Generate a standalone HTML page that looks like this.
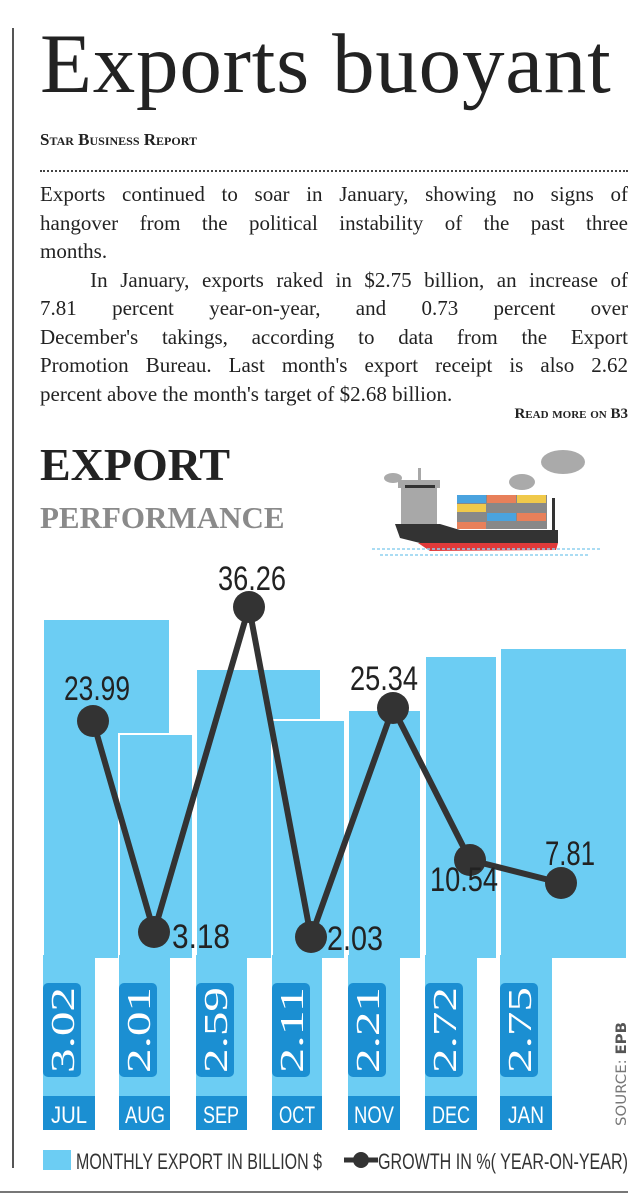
<!DOCTYPE html>
<html><head><meta charset="utf-8">
<style>
html,body{margin:0;padding:0;background:#fff;}
body{width:643px;height:1198px;position:relative;overflow:hidden;font-family:"Liberation Serif",serif;color:#222;}
.vl{position:absolute;left:12px;top:28px;width:1.5px;height:1140px;background:#555;}
h1{position:absolute;left:40px;top:14px;margin:0;font-weight:normal;font-size:85px;letter-spacing:0.8px;color:#222;line-height:100px;}
.by{position:absolute;left:40px;top:130px;font-size:17px;font-weight:bold;font-variant:small-caps;}
.dot{position:absolute;left:40px;top:170px;width:588px;border-top:2px dotted #444;}
.p{position:absolute;left:40px;top:180px;width:588px;font-size:21px;line-height:28.5px;color:#222;}
.p div{text-align:justify;text-align-last:justify;white-space:nowrap;}
.p div.l{text-align-last:left;}
.rm{position:absolute;right:15px;top:406px;font-size:15px;font-weight:bold;font-variant:small-caps;}
.ex{position:absolute;left:40px;top:438px;font-size:46px;font-weight:bold;line-height:54px;color:#222;}
.pf{position:absolute;left:40px;top:498px;font-size:31px;font-weight:bold;color:#8a8a8a;line-height:40px;}
svg{position:absolute;left:0;top:0;}
</style></head><body>
<div class="vl"></div>
<h1>Exports buoyant</h1>
<div class="by">Star Business Report</div>
<div class="dot"></div>
<div class="p">
<div>Exports continued to soar in January, showing no signs of</div>
<div>hangover from the political instability of the past three</div>
<div class="l">months.</div>
<div>&nbsp;&nbsp;&nbsp;&nbsp;In January, exports raked in $2.75 billion, an increase of</div>
<div>7.81 percent year-on-year, and 0.73 percent over</div>
<div>December's takings, according to data from the Export</div>
<div>Promotion Bureau. Last month's export receipt is also 2.62</div>
<div class="l">percent above the month's target of $2.68 billion.</div>
</div>
<div class="rm">Read more on B3</div>
<div class="ex">EXPORT</div>
<div class="pf">PERFORMANCE</div>
<svg width="643" height="1198" viewBox="0 0 643 1198">
<g>
<ellipse cx="393" cy="478" rx="9" ry="5" fill="#aaa"/>
<ellipse cx="522" cy="482" rx="13" ry="8" fill="#aaa"/>
<ellipse cx="563" cy="462" rx="22" ry="12" fill="#aaa"/>
<rect x="401" y="482" width="36" height="42" fill="#a8a8a8"/>
<rect x="398" y="480" width="42" height="8" fill="#a8a8a8"/>
<rect x="418" y="468" width="3" height="14" fill="#a8a8a8"/>
<rect x="405" y="485" width="30" height="3" fill="#333"/>
<rect x="457" y="495" width="90" height="34" fill="#888"/>
<rect x="457" y="495" width="29" height="8" fill="#4aa3df"/><rect x="487" y="495" width="29" height="8" fill="#e8805a"/><rect x="517" y="495" width="29" height="8" fill="#f0c94a"/>
<rect x="457" y="504" width="29" height="8" fill="#f0c94a"/><rect x="517" y="504" width="29" height="8" fill="#888"/>
<rect x="487" y="513" width="29" height="8" fill="#4aa3df"/><rect x="517" y="513" width="29" height="8" fill="#e8805a"/>
<rect x="457" y="522" width="29" height="7" fill="#e8805a"/>
<rect x="552" y="498" width="3" height="32" fill="#333"/>
<polygon points="395,524 440,524 460,530 558,530 558,543 420,543 400,538" fill="#333"/>
<polygon points="418,543 558,543 556,550 430,551" fill="#e03a3a"/>
<line x1="372" y1="549" x2="600" y2="549" stroke="#8ed0ef" stroke-width="1.5" stroke-dasharray="3 2"/>
<line x1="380" y1="555" x2="590" y2="555" stroke="#8ed0ef" stroke-width="1.5" stroke-dasharray="3 2"/>
</g>
<g fill="#6ccdf3" stroke="#fff" stroke-width="2">
<rect x="43" y="619" width="127" height="340"/>
<rect x="119" y="734" width="74" height="225"/>
<rect x="196" y="669" width="125" height="290"/>
<rect x="272" y="720" width="73" height="239"/>
<rect x="348" y="710" width="73" height="249"/>
<rect x="425" y="656" width="72" height="303"/>
<rect x="500" y="648" width="127" height="311"/>
</g>
<g fill="#6ccdf3">
<rect x="43" y="955" width="52" height="141"/>
<rect x="119" y="955" width="51" height="141"/>
<rect x="196" y="955" width="51" height="141"/>
<rect x="272" y="955" width="50" height="141"/>
<rect x="348" y="955" width="52" height="141"/>
<rect x="425" y="955" width="52" height="141"/>
<rect x="500" y="955" width="52" height="141"/>
</g>
<g fill="#1b8fd2">
<rect x="43" y="983" width="38" height="94" rx="5"/>
<rect x="119" y="983" width="38" height="94" rx="5"/>
<rect x="196" y="983" width="38" height="94" rx="5"/>
<rect x="272" y="983" width="38" height="94" rx="5"/>
<rect x="348" y="983" width="38" height="94" rx="5"/>
<rect x="425" y="983" width="38" height="94" rx="5"/>
<rect x="500" y="983" width="38" height="94" rx="5"/>
<rect x="43" y="1096" width="52" height="34"/>
<rect x="119" y="1096" width="51" height="34"/>
<rect x="196" y="1096" width="51" height="34"/>
<rect x="272" y="1096" width="50" height="34"/>
<rect x="348" y="1096" width="52" height="34"/>
<rect x="425" y="1096" width="52" height="34"/>
<rect x="500" y="1096" width="52" height="34"/>
</g>
<g fill="#fff" font-family="Liberation Serif,serif" font-size="34">
<text transform="translate(74,1073) rotate(-90)" textLength="86" lengthAdjust="spacingAndGlyphs">3.02</text>
<text transform="translate(150,1073) rotate(-90)" textLength="86" lengthAdjust="spacingAndGlyphs">2.01</text>
<text transform="translate(227,1073) rotate(-90)" textLength="86" lengthAdjust="spacingAndGlyphs">2.59</text>
<text transform="translate(303,1073) rotate(-90)" textLength="86" lengthAdjust="spacingAndGlyphs">2.11</text>
<text transform="translate(379,1073) rotate(-90)" textLength="86" lengthAdjust="spacingAndGlyphs">2.21</text>
<text transform="translate(456,1073) rotate(-90)" textLength="86" lengthAdjust="spacingAndGlyphs">2.72</text>
<text transform="translate(531,1073) rotate(-90)" textLength="86" lengthAdjust="spacingAndGlyphs">2.75</text>
</g>
<g fill="#fff" font-family="Liberation Sans,sans-serif" font-size="24" text-anchor="middle">
<text x="69" y="1123" textLength="36" lengthAdjust="spacingAndGlyphs">JUL</text>
<text x="145" y="1123" textLength="40" lengthAdjust="spacingAndGlyphs">AUG</text>
<text x="221" y="1123" textLength="36" lengthAdjust="spacingAndGlyphs">SEP</text>
<text x="297" y="1123" textLength="36" lengthAdjust="spacingAndGlyphs">OCT</text>
<text x="374" y="1123" textLength="40" lengthAdjust="spacingAndGlyphs">NOV</text>
<text x="451" y="1123" textLength="38" lengthAdjust="spacingAndGlyphs">DEC</text>
<text x="526" y="1123" textLength="36" lengthAdjust="spacingAndGlyphs">JAN</text>
</g>
<polyline points="93,721 154,932 249,607 311,937 393,708 470,860 561,883" fill="none" stroke="#333" stroke-width="6" stroke-linejoin="round"/>
<g fill="#333">
<circle cx="93" cy="721" r="16"/><circle cx="154" cy="932" r="16"/><circle cx="249" cy="607" r="16"/><circle cx="311" cy="937" r="16"/><circle cx="393" cy="708" r="16"/><circle cx="470" cy="860" r="16"/><circle cx="561" cy="883" r="16"/>
</g>
<g fill="#222" font-family="Liberation Sans,sans-serif" font-size="34">
<text x="64" y="700" textLength="66" lengthAdjust="spacingAndGlyphs">23.99</text>
<text x="218" y="590" textLength="68" lengthAdjust="spacingAndGlyphs">36.26</text>
<text x="172" y="948" textLength="58" lengthAdjust="spacingAndGlyphs">3.18</text>
<text x="327" y="950" textLength="56" lengthAdjust="spacingAndGlyphs">2.03</text>
<text x="350" y="690" textLength="68" lengthAdjust="spacingAndGlyphs">25.34</text>
<text x="430" y="891" textLength="68" lengthAdjust="spacingAndGlyphs">10.54</text>
<text x="545" y="865" textLength="50" lengthAdjust="spacingAndGlyphs">7.81</text>
</g>
<text transform="translate(626,1126) rotate(-90)" font-family="DejaVu Sans,sans-serif" font-size="14" fill="#777" textLength="104" lengthAdjust="spacingAndGlyphs">SOURCE: <tspan font-weight="bold" fill="#555">EPB</tspan></text>
<rect x="43" y="1150" width="28" height="20" fill="#6ccdf3"/>
<text x="76" y="1169" font-family="Liberation Sans,sans-serif" font-size="22" fill="#333" textLength="246" lengthAdjust="spacingAndGlyphs">MONTHLY EXPORT IN BILLION $</text>
<line x1="344" y1="1160" x2="378" y2="1160" stroke="#333" stroke-width="5"/>
<circle cx="361" cy="1160" r="8" fill="#333"/>
<text x="378" y="1169" font-family="Liberation Sans,sans-serif" font-size="22" fill="#333" textLength="250" lengthAdjust="spacingAndGlyphs">GROWTH IN %( YEAR-ON-YEAR)</text>
<line x1="0" y1="1192" x2="628" y2="1192" stroke="#777" stroke-width="2"/>
</svg>
</body></html>
